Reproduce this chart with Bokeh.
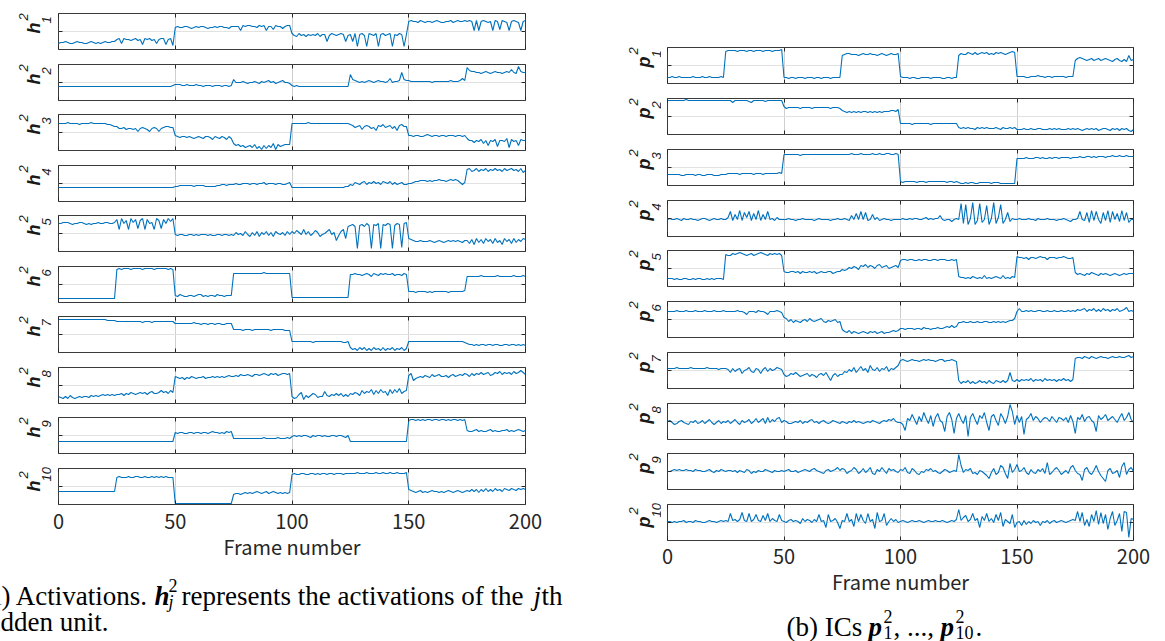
from bokeh.plotting import figure
from bokeh.layouts import row, column
from bokeh.models import Range1d, FixedTicker, LinearAxis, Grid
from bokeh.core.properties import value
from bokeh.embed import file_html
from bokeh.resources import INLINE

# ---------------- data ----------------
# each series: 201 frames (0..200), one character per frame, level 0..35 (base-36 digit)
LEVELS = "0123456789abcdefghijklmnopqrstuvwxyz"
frames = list(range(201))
x_ticks = [0, 50, 100, 150, 200]
x_tick_labels = ["0", "50", "100", "150", "200"]
grid_x = [50, 100, 150]
y_mid = [18]
unit_index = ["1", "2", "3", "4", "5", "6", "7", "8", "9", "10"]

h1 = ("67787" "66787" "76678" "76767" "87788"
      "ab6ba" "a9ab9" "a5bab" "9a6ab" "b5ab4"
      "mnmmn" "nmlmn" "mnnml" "mmnmn" "nmmln"
      "nnnjo" "noonn" "monoj" "nnkon" "nlnoo"
      "gedge" "fdfef" "egdff" "8egfe" "fgf8e"
      "f8g3f" "ge3gf" "eg3fg" "efg3f" "egf3f"
      "stssr" "tsrss" "rstsr" "rsstr" "stsst"
      "stsjt" "jstsr" "sjtsk" "tsrjs" "tsrjs" "t")
h2 = ("eeeee" "eeeee" "eeeee" "eeeee" "eeeee"
      "eeeee" "eeeee" "eeeee" "eeeee" "eeeef"
      "gggff" "gfffg" "ffeff" "fefff" "effef"
      "liiij" "ihiij" "ihjij" "kijhi" "jkiih"
      "fefee" "eeeee" "eeeee" "eeeee" "eeeee"
      "qlkji" "jijkj" "ijkjj" "ijmij" "jkslk"
      "kjjjj" "jjjjj" "ijjjj" "jjjkj" "jjkmk"
      "xutts" "srsts" "rstss" "rstsv" "sryts" "s")
h3 = ("rrrrs" "rrrrq" "rrrrs" "rrrrr" "rqqpo"
      "ommnl" "mmlmj" "mnmlj" "mnmjm" "noonn"
      "fedee" "dedcd" "edcee" "dbedc" "edbec"
      "75645" "34536" "24152" "53716" "45666"
      "rrrrr" "rrsrr" "rrrrr" "rrrrr" "rrrrr"
      "qpnop" "lopom" "nkpoq" "nopmo" "kpqoo"
      "ffeff" "eefgf" "effef" "fefff" "effef"
      "caa8a" "9b7a5" "a9b4a" "a9c3b" "9a5ba" "a")
h4 = ("eeeee" "eeeee" "eeeee" "eeeee" "eeeee"
      "eeeee" "eeeee" "eeeee" "eeeee" "eeeee"
      "ffggg" "gggfg" "gggff" "fffgg" "hhghh"
      "hihhi" "iihii" "hiijh" "iiihi" "ihhij"
      "eeeee" "eeeee" "eeeee" "eeeee" "eeeff"
      "hgjih" "jkhji" "kijhk" "jikhj" "hijhh"
      "iijkk" "lllkl" "kllml" "lklml" "mljhj"
      "wxuvx" "uwvxu" "wvxvw" "uxvwx" "vwuxt" "v")
h5 = ("ssttt" "srsst" "tsrsr" "sstss" "ttsst"
      "wmxsv" "mxtwn" "vxmws" "tmxvn" "wsxux"
      "hghhg" "ghhgh" "ghhhg" "hgghh" "ghhgh"
      "gjhig" "khfjg" "kfjhk" "gjfki" "hjgkh"
      "kiljh" "mhkgi" "ljfhi" "kmhjb" "gkmdp"
      "qrp3q" "rpsq3" "rqs3r" "qsr3q" "sr4st"
      "dcbaa" "baaab" "a9aba" "9abab" "aba9b"
      "b8c7d" "9c8da" "c8d9b" "7dac8" "d9cad" "c")
h6 = ("44444" "44444" "44444" "44444" "44444"
      "xyxyy" "yxyyy" "yxyyy" "yxyyy" "yyxyx"
      "76876" "67767" "88676" "77687" "76777"
      "ttttt" "ttttt" "tttut" "ttttt" "ttttt"
      "55555" "55555" "55555" "55555" "55555"
      "sstss" "rstsq" "tsrts" "tsstr" "ssrts"
      "bbbab" "bbbab" "abbbb" "bbabb" "bbbbc"
      "qqqqq" "qrqqq" "qqqrq" "qqqqq" "rqqqr" "q")
h7 = ("xxxxx" "xxxxx" "xxxxx" "xxxxx" "xwwww"
      "vvvvv" "vvvvv" "vuvvv" "uvvvv" "vvvvv"
      "ttttt" "tttut" "tstts" "ttstt" "ssttt"
      "nnnnm" "nnnmn" "nnnnn" "nmnnn" "nnmmm"
      "bbbbb" "bbbba" "bbbbb" "bbbbb" "bbaab"
      "53425" "35242" "53425" "24352" "43524"
      "bbbbb" "bbbbb" "bbbbb" "bbbbb" "bbbba"
      "98878" "78878" "87887" "78878" "87878" "7")
h8 = ("76575" "86567" "67768" "78789" "89898"
      "99a8a" "9ba9a" "bab9b" "caabd" "bcadb"
      "rqpqo" "qprqp" "qqrpq" "qrqrq" "rqrsr"
      "rsrts" "stsrt" "tstut" "sutus" "tuutu"
      "7569b" "4868a" "9677c" "8798a" "8a797"
      "a9ba8" "dacbe" "9daeb" "c8eae" "bfacd"
      "sunpq" "rqsrq" "trstr" "rsqst" "rstsu"
      "trusu" "tvtuv" "stvuw" "tvuvt" "wuvxv" "t")
h9 = ("ccccc" "ccccc" "ccccc" "ccccc" "ccccc"
      "ccccc" "ccccc" "ccccc" "ccccc" "ccccc"
      "lkllk" "kllkl" "lkllk" "lmllk" "lkmlm"
      "fffff" "fffff" "fffgf" "ffffg" "fffgf"
      "hihih" "iihgi" "hiihi" "hhiih" "iihgi"
      "ccccc" "ccccc" "ccccc" "ccccc" "ccccc"
      "xyyxy" "xyxyy" "xyyxy" "yxyxy" "yxyxy"
      "nmmno" "mnmmn" "omnmm" "nnomn" "mnonm" "n")
h10 = ("ddddd" "ddddd" "ddddd" "ddddd" "ddddd"
       "rsrrr" "srrss" "rrsrr" "srsrs" "rsrrr"
       "11111" "11111" "11111" "11111" "11111"
       "abbab" "cbcbc" "dcbcd" "bcdcb" "cbcbc"
       "uvuuv" "vuuvv" "uvuvv" "uvvuv" "vvuvv"
       "vvvwv" "vvwvv" "vwvvw" "vvwvv" "wvvvw"
       "fedcd" "ecdcd" "eddcd" "cdedc" "dedcd"
       "edfdf" "cfdgd" "fdgef" "dgfeg" "fegfg" "f")

p1 = ("66766" "76666" "67666" "76676" "66676"
      "wxxxx" "wxxxw" "xxwxx" "xwxxx" "wxxxy"
      "66566" "56665" "66656" "65666" "56666"
      "stuut" "ttstu" "ttutt" "stuts" "tuttu"
      "76665" "66556" "66656" "66655" "66566"
      "suttv" "utvtu" "vuvtu" "tvuvu" "tuvwv"
      "77776" "67778" "77677" "67777" "76777"
      "npqpo" "nopno" "pnopo" "nmopn" "momsn" "o")
p2 = ("yyyyy" "yyyzy" "yyyyy" "yyyyy" "yyyyy"
      "yyywy" "yyyyy" "xwyyy" "yyxyy" "yyyyy"
      "sqrrr" "rrqrr" "rrqrr" "rrrrr" "qrrrq"
      "onmnm" "nmnmn" "nmnmn" "mnmnn" "noonp"
      "bbbbb" "abbbb" "bbbab" "bbbbb" "bbbbb"
      "76767" "66576" "76766" "67657" "66767"
      "55565" "56556" "65556" "56565" "55656"
      "56545" "65656" "45665" "46564" "65643" "5")
p3 = ("bbbbb" "baabb" "bbabb" "aabbb" "aaabb"
      "bcccc" "cbccc" "ccbcc" "cbccc" "cccdc"
      "vvvvv" "vvuvv" "vvvvv" "vvvvv" "vvvvv"
      "vvvvw" "vvvwv" "vvvwv" "vwvvw" "wvvwv"
      "43444" "44344" "43444" "44444" "34434"
      "32232" "33223" "33332" "33322" "22222"
      "rrrrs" "rrrss" "rsrrs" "rssrs" "sssrs"
      "sstss" "ttsts" "tttst" "tuttu" "ttutt" "t")
p4 = ("hihhi" "hgihh" "ihhgh" "iihgh" "ihhih"
      "hjpgm" "hqgoj" "pgnhq" "gmhph" "igjhh"
      "hhihh" "ghhih" "hhhgh" "ihhhh" "ghhih"
      "hihgl" "hnhph" "oghmh" "jghih" "hghhh"
      "hihhi" "hiihh" "ijhih" "iilhg" "hhfhi"
      "hxdwc" "iycgx" "ehvci" "ydjwd" "hofih"
      "hihhh" "ihhgi" "hhhih" "hhghh" "ihgfh"
      "hiphg" "oeqgp" "hdogq" "ephnf" "qgoeh" "h")
p5 = ("88878" "77887" "78788" "77878" "78887"
      "wvvxw" "xyxwv" "wxvwx" "yxwvx" "wxwxv"
      "feeff" "efdfe" "efefd" "efeef" "fdeff"
      "hghji" "kjhlk" "mjlki" "lmjkl" "ijklj"
      "qrrqr" "rqqrq" "rrqqr" "rqrrr" "qqrqr"
      "a9989" "8a989" "8b898" "9a98b" "898a9"
      "uttst" "rttst" "uttrt" "ttstt" "utsst"
      "ecdcb" "dcedc" "bdcdc" "bcdcb" "cdcdd" "d")
p6 = ("qqqqr" "qqqrq" "qqrqq" "qrqqq" "rqqqr"
      "qqqqq" "rqqpn" "qqqpr" "qqpnq" "qqrqp"
      "kjgif" "hgfhi" "gjhgh" "ijgfh" "ghifg"
      "86574" "65456" "54656" "45645" "56767"
      "99899" "98998" "a9989" "9a99a" "bacab"
      "ffgff" "gffgf" "fggff" "gfgfg" "fghhj"
      "qtqqr" "qrqqr" "rqqrq" "qrqqr" "qqrqr"
      "qsrst" "qsrtq" "sqtrs" "qsrtq" "rsuqr" "q")
p7 = ("kkkkl" "kkkkk" "lkkkk" "kklkk" "kkjkk"
      "kjgkh" "jkfij" "lhgkj" "fjlhk" "ijlkj"
      "ecdfe" "gecde" "fcedb" "efdgc" "8dfce"
      "ehgjh" "lgjmi" "kgnji" "lhkjm" "hkjln"
      "stsrs" "tssrs" "tstss" "rsttr" "sstsr"
      "85768" "57568" "67586" "58768" "68g87"
      "97989" "8a798" "97a89" "89798" "a8979"
      "uvvuw" "vuwvu" "vwvvu" "vwvvw" "vvwxv" "w")
p8 = ("ijhfg" "ijhgf" "ihjgh" "jgikh" "fhjgi"
      "hjgik" "hfjhi" "kgilh" "jlgmh" "kilmh"
      "jiggh" "ihjgi" "hjkhi" "gijhg" "hjihg"
      "ihgih" "jhihg" "hihji" "hgiji" "kjlih"
      "hf9lj" "pkfni" "rlgod" "mqjh8" "nrk6l"
      "qkgo3" "mqkfo" "lrh9n" "pjeqm" "gnzsf"
      "ohn5k" "mqjnl" "hkmli" "nkhml" "jmhoi"
      "6mkpi" "mnjh8" "okmpj" "lnkhm" "qjmrk" "h")
p9 = ("iijkj" "kjjkj" "jikjj" "iijki" "hjikj"
      "ijjij" "hjihk" "jgihj" "iikji" "hjiij"
      "ijkii" "jhijk" "jiklj" "ihgjk" "ijkmj"
      "lkgij" "mkgil" "hjmgf" "kimjg" "ljkih"
      "kjmhg" "ljgfi" "hkjli" "jhgik" "jhiji"
      "zohkj" "lghfj" "igebh" "lfhom" "gbqhk"
      "pijmh" "fkhgk" "ilgrf" "hkmjf" "hjgmo"
      "jgf9k" "mhfjo" "ieb8j" "lghjc" "nrfkm" "i")
p10 = ("jjiji" "jjkij" "jikjj" "iijkj" "jijkj"
       "kjrkl" "jlskj" "rjlqk" "jpkrj" "mkjqk"
       "jiklj" "kjhmj" "lkilj" "qjkdq" "jkmic"
       "kjrjl" "erjqk" "hrjlc" "sjkrf" "jmjli"
       "jkjij" "kjjkj" "ijkjj" "kjjkj" "ijkjl"
       "vknpj" "lrkmd" "okrjm" "iqkse" "ljhqd"
       "ijfkg" "jhkij" "fjikh" "jkijk" "jijkl"
       "ktjsf" "leqju" "gshqb" "mtfkr" "9ts3m" "l")

hidden_units = [h1, h2, h3, h4, h5, h6, h7, h8, h9, h10]
ics = [p1, p2, p3, p4, p5, p6, p7, p8, p9, p10]


def decode(s):
    return [LEVELS.index(c) for c in s]


# ---------------- style ----------------
LINE = "#0072BD"
GRID_V = "#cfcfcf"
GRID_H = "#e2e2e2"
AXC = "#262626"
BOX = "#3a3a3a"
TICK_FONT = "Noto Sans CJK JP"
VAR_FONT = "Liberation Sans"
CAP_FONT = "Liberation Serif"
FRAME_H = 36
SIDE_PAD = 6   # gap between label strip and plot frame


def hidden_axis(ticks):
    return LinearAxis(ticker=FixedTicker(ticks=ticks), axis_line_color=None,
                      major_tick_in=4, major_tick_out=0, minor_tick_in=0, minor_tick_out=0,
                      major_tick_line_color=AXC, major_tick_line_width=1,
                      major_label_text_color=None, major_label_text_font_size="1px",
                      major_label_standoff=0)


def blank_fig(w, h, xr, yr):
    f = figure(width=w, height=h, x_range=Range1d(*xr), y_range=Range1d(*yr),
               x_axis_type=None, y_axis_type=None, output_backend="svg",
               toolbar_location=None, min_border=0)
    f.outline_line_color = None
    return f


def make_column(series, frame_w, right_b, top_first, bottom_last, pitches, standoff):
    figs, frame_bottoms = [], []
    n = len(series)
    top = top_first
    for i, s in enumerate(series):
        vals = decode(s)
        tb = top_first if i == 0 else 7
        bb = bottom_last if i == n - 1 else pitches[i] - FRAME_H - 7
        p = figure(frame_width=frame_w, frame_height=FRAME_H,
                   x_range=Range1d(0, 200), y_range=Range1d(0, 36),
                   x_axis_type=None, y_axis_type=None,
                   output_backend="svg", toolbar_location=None,
                   min_border_left=SIDE_PAD, min_border_right=right_b,
                   min_border_top=tb, min_border_bottom=bb)
        p.outline_line_color = BOX
        p.outline_line_width = 1
        p.add_layout(Grid(dimension=0, ticker=FixedTicker(ticks=grid_x),
                          grid_line_color=GRID_V, grid_line_width=1))
        p.add_layout(Grid(dimension=1, ticker=FixedTicker(ticks=y_mid),
                          grid_line_color=GRID_H, grid_line_width=1))
        p.add_layout(hidden_axis(x_ticks), "above")
        p.add_layout(hidden_axis(y_mid), "left")
        p.add_layout(hidden_axis(y_mid), "right")
        if i == n - 1:
            ax = LinearAxis(ticker=FixedTicker(ticks=x_ticks), axis_line_color=None,
                            major_tick_in=4, major_tick_out=0, minor_tick_in=0, minor_tick_out=0,
                            major_tick_line_color=AXC,
                            major_label_overrides={t: l for t, l in zip(x_ticks, x_tick_labels)},
                            major_label_text_font=TICK_FONT, major_label_text_font_size="20px",
                            major_label_text_color=AXC, major_label_standoff=standoff,
                            axis_label="Frame number", axis_label_text_font=TICK_FONT,
                            axis_label_text_font_size="20px", axis_label_text_font_style="normal",
                            axis_label_text_color=AXC, axis_label_standoff=0)
            p.add_layout(ax, "below")
        else:
            p.add_layout(hidden_axis(x_ticks), "below")
        p.line(x=frames[:len(vals)], y=vals, line_color=LINE, line_width=1.1)
        figs.append(p)
        frame_bottoms.append(top + FRAME_H)
        if i < n - 1:
            top += pitches[i]
    total_h = top_first + sum(pitches) + FRAME_H + bottom_last
    return figs, frame_bottoms, total_h


def var_labels(fig, letter, frame_bottoms, bx):
    xs, ys, ts, sizes, styles = [], [], [], [], []
    for fb, idx in zip(frame_bottoms, unit_index):
        start = fb - (16 if len(idx) == 1 else 13)
        xs += [bx, bx - 10, bx + 13]
        ys += [start, start - 13, start - 10]
        ts += [letter, "2", idx]
        sizes += ["18px", "13px", "13px"]
        styles += ["bold italic", "italic", "italic"]
    fig.text(x=xs, y=ys, text=ts, angle=90, angle_units="deg",
             text_font=value(VAR_FONT), text_font_size=sizes, text_font_style=styles,
             text_color="#1a1a1a", text_baseline="alphabetic", text_align="left")


# ---------------- left block (canvas x 0..600) ----------------
LW = 58 - SIDE_PAD
left_figs, left_fb, left_h = make_column(hidden_units, 467, 75, 13, 60,
                                         [51, 50, 51, 50, 51, 50, 51, 50, 51], 9)
lab_l = blank_fig(LW, left_h, (0, LW), (left_h, 0))
var_labels(lab_l, "h", left_fb, 33)
cap_l = blank_fig(600, 641 - left_h, (0, 600), (641, left_h))

# ---------------- right block (canvas x 600..1165) ----------------
RW = 667 - 600 - SIDE_PAD
right_figs, right_fb, right_h = make_column(ics, 466, 32, 47, 58,
                                            [51, 51, 51, 50, 51, 51, 51, 50, 51], 8)
lab_r = blank_fig(RW, right_h, (600, 600 + RW), (right_h, 0))
var_labels(lab_r, "p", right_fb, 643)
cap_r = blank_fig(565, 641 - right_h, (600, 1165), (641, right_h))

# ---------------- captions ----------------
CAP = dict(text_font=value(CAP_FONT), text_color="black", text_baseline="alphabetic")
BIG, SMALL = "27px", "18px"
Y1, Y2 = 595, 621
cap_l.text(x=[148], y=[Y1], text=["(a) Activations."], text_font_size=BIG, text_align="right", **CAP)
cap_l.text(x=[154], y=[Y1], text=["h"], text_font_size=BIG, text_font_style="bold italic", text_align="left", **CAP)
cap_l.text(x=[168, 168], y=[Y1 - 10, Y1 + 6], text=["2", "j"], text_font_size=SMALL,
           text_font_style=["normal", "italic"], text_align="left", **CAP)
cap_l.text(x=[181], y=[Y1], text=["represents the activations of the"], text_font_size=BIG, text_align="left", **CAP)
cap_l.text(x=[533], y=[Y1], text=["j"], text_font_size=BIG, text_font_style="italic", text_align="left", **CAP)
cap_l.text(x=[541], y=[Y1], text=["th"], text_font_size=BIG, text_align="left", **CAP)
cap_l.text(x=[-21], y=[Y2], text=["hidden unit."], text_font_size=BIG, text_align="left", **CAP)

YB = 626
cap_r.text(x=[786], y=[YB], text=["(b) ICs"], text_font_size=BIG, text_align="left", **CAP)
cap_r.text(x=[868], y=[YB], text=["p"], text_font_size=BIG, text_font_style="bold italic", text_align="left", **CAP)
cap_r.text(x=[883, 883], y=[YB - 10, YB + 6], text=["2", "1"], text_font_size=SMALL, text_align="left", **CAP)
cap_r.text(x=[893], y=[YB], text=[", ..., "], text_font_size=BIG, text_align="left", **CAP)
cap_r.text(x=[940], y=[YB], text=["p"], text_font_size=BIG, text_font_style="bold italic", text_align="left", **CAP)
cap_r.text(x=[955, 955], y=[YB - 10, YB + 6], text=["2", "10"], text_font_size=SMALL, text_align="left", **CAP)
cap_r.text(x=[975], y=[YB], text=["."], text_font_size=BIG, text_align="left", **CAP)

left_block = column(row(lab_l, column(*left_figs)), cap_l)
right_block = column(row(lab_r, column(*right_figs)), cap_r)
layout = row(left_block, right_block)
open("out.html", "w").write(file_html(layout, INLINE))
